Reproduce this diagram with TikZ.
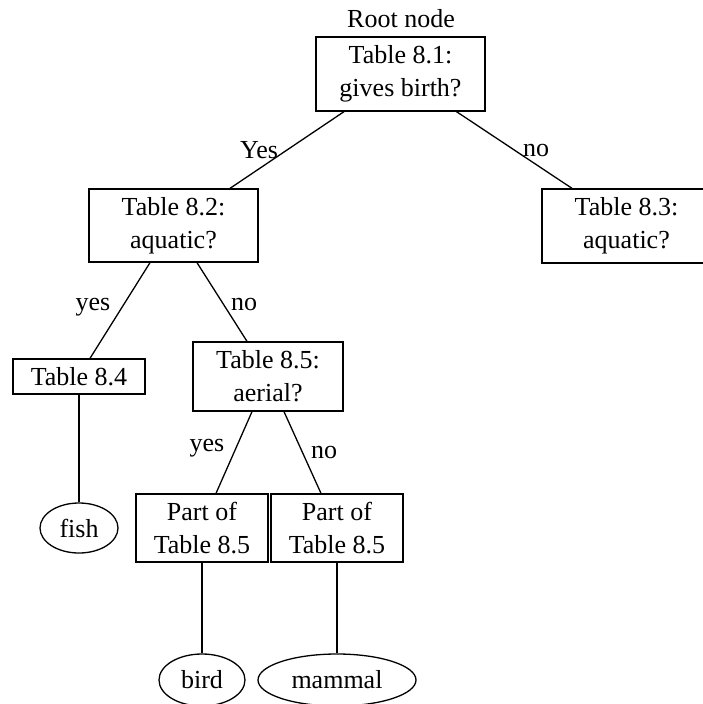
\documentclass[tikz,border=0pt]{standalone}
\usepackage{fontspec}
\setmainfont{Liberation Serif}
\usetikzlibrary{shapes.geometric}
\begin{document}
\begin{tikzpicture}[x=1pt,y=-1pt,
    tbl/.style={draw,line width=1.3pt,inner sep=0pt,align=center,
      font=\fontsize{26}{33}\selectfont},
    leaf/.style={draw,ellipse,line width=1.3pt,inner sep=0pt,
      font=\fontsize{26}{33}\selectfont},
    lbl/.style={inner sep=0pt,font=\fontsize{26}{33}\selectfont},
    branch/.style={line width=1.3pt}]
  \path[use as bounding box,clip] (0,0) rectangle (703,704);

  % Root
  \node[lbl] (rootname) at (401,19) {Root node};
  \node[tbl,minimum width=169pt,minimum height=74pt] (t81) at (400.5,74) {Table 8.1:\\gives birth?};

  % Second level
  \node[tbl,minimum width=169pt,minimum height=73pt] (t82) at (173.5,225.5) {Table 8.2:\\aquatic?};
  \node[tbl,minimum width=169pt,minimum height=74pt] (t83) at (626.5,226) {Table 8.3:\\aquatic?};
  \draw[branch] ([xshift=-56.5pt]t81.south) -- ([xshift=56.5pt]t82.north);
  \draw[branch] ([xshift=56pt]t81.south) -- ([xshift=-54.5pt]t83.north);
  \node[lbl] (yes1) at (259,150) {Yes};
  \node[lbl] (no1) at (536,150) {no};

  % Third level
  \node[tbl,minimum width=132pt,minimum height=35pt] (t84) at (79,376.5) {Table 8.4};
  \node[tbl,minimum width=150pt,minimum height=69pt] (t85) at (268,376.5) {Table 8.5:\\aerial?};
  \draw[branch] ([xshift=-23.5pt]t82.south) -- ([xshift=11pt]t84.north);
  \draw[branch] ([xshift=23.5pt]t82.south) -- ([xshift=-21pt]t85.north);
  \node[lbl] (yes2) at (93,307) {yes};
  \node[lbl] (no2) at (244,304) {no};

  % Fourth level
  \node[tbl,minimum width=132pt,minimum height=68pt] (p1) at (202,528) {Part of\\Table 8.5};
  \node[tbl,minimum width=132pt,minimum height=68pt] (p2) at (337,528) {Part of\\Table 8.5};
  \draw[branch] ([xshift=-16pt]t85.south) -- ([xshift=14pt]p1.north);
  \draw[branch] ([xshift=16pt]t85.south) -- ([xshift=-16pt]p2.north);
  \node[lbl] (yes3) at (207,448) {yes};
  \node[lbl] (no3) at (324,452) {no};

  % Leaves
  \node[leaf,minimum width=78pt,minimum height=50pt] (fish) at (79,528) {fish};
  \node[leaf,minimum width=86pt,minimum height=52pt] (bird) at (202,680) {bird};
  \node[leaf,minimum width=158pt,minimum height=52pt] (mammal) at (337,680) {mammal};
  \draw[line width=2pt] (t84) -- (fish);
  \draw[branch] (p1.south) -- (bird.north);
  \draw[branch] (p2.south) -- (mammal.north);
\end{tikzpicture}
\end{document}
